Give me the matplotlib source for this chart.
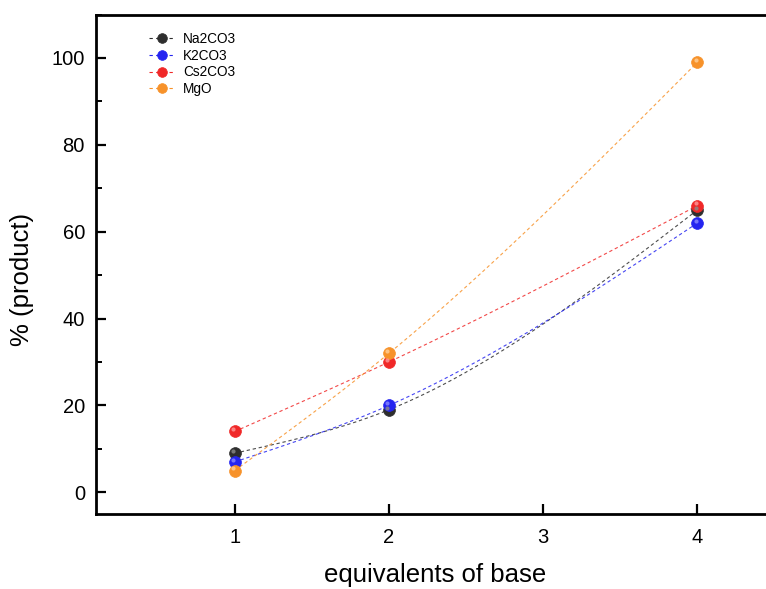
import numpy as np
import matplotlib
matplotlib.use("Agg")
import matplotlib.pyplot as plt
from matplotlib.ticker import MultipleLocator
from matplotlib.lines import Line2D

plt.rcParams['font.family'] = ['Liberation Sans', 'DejaVu Sans']

equivalents = [1, 2, 4]
series_names = ["Na2CO3", "K2CO3", "Cs2CO3", "MgO"]
na2co3 = [9, 19, 65]
k2co3 = [7, 20, 62]
cs2co3 = [14, 30, 66]
mgo = [5, 32, 99]
colors = ["#2e2e2e", "#2424f0", "#f02828", "#f7922a"]
highlights = ["#8a8a8a", "#8a8aff", "#ff9a9a", "#ffd09a"]


def natural_spline(x, y, n=200):
    x = np.asarray(x, float)
    y = np.asarray(y, float)
    k = len(x)
    h = np.diff(x)
    A = np.zeros((k, k))
    r = np.zeros(k)
    A[0, 0] = 1
    A[-1, -1] = 1
    for i in range(1, k - 1):
        A[i, i - 1] = h[i - 1]
        A[i, i] = 2 * (h[i - 1] + h[i])
        A[i, i + 1] = h[i]
        r[i] = 6 * ((y[i + 1] - y[i]) / h[i] - (y[i] - y[i - 1]) / h[i - 1])
    M = np.linalg.solve(A, r)
    xs = np.linspace(x[0], x[-1], n)
    ys = np.empty_like(xs)
    for j, xv in enumerate(xs):
        i = min(np.searchsorted(x, xv, side='right') - 1, k - 2)
        t1 = x[i + 1] - xv
        t0 = xv - x[i]
        hi = h[i]
        ys[j] = (M[i] * t1 ** 3 / (6 * hi) + M[i + 1] * t0 ** 3 / (6 * hi)
                 + (y[i] / hi - M[i] * hi / 6) * t1
                 + (y[i + 1] / hi - M[i + 1] * hi / 6) * t0)
    return xs, ys


fig = plt.figure(figsize=(7.66, 5.89), dpi=100)
ax = fig.add_axes([96 / 766, 1 - 514 / 589, (774.5 - 96) / 766, (514 - 14.5) / 589])

all_series = [na2co3, k2co3, cs2co3, mgo]
handles = []
for name, vals, c, hl in zip(series_names, all_series, colors, highlights):
    xs, ys = natural_spline(equivalents, vals)
    ax.plot(xs, ys, linestyle=(0, (3, 2.5)), color=c, lw=0.8, alpha=0.85, zorder=2)
    ax.plot(equivalents, vals, 'o', color=c, ms=8.5, mec=c, mew=0.5, zorder=3)
    ax.plot(np.array(equivalents) - 0.01, np.array(vals) + 0.5, 'o', color=hl,
            ms=3, mew=0, alpha=0.8, zorder=4)
    handles.append(Line2D([0], [0], color=c, lw=0.8, linestyle=(0, (3, 3)),
                          marker='o', ms=7, mec=c, mew=0.5))

ax.set_xlim(0.1, 4.5)
ax.set_ylim(-5, 110)
ax.set_xticks([1, 2, 3, 4])
ax.yaxis.set_major_locator(MultipleLocator(20))
ax.yaxis.set_minor_locator(MultipleLocator(10))
ax.set_yticks(np.arange(0, 101, 20))
ax.tick_params(axis='both', which='major', direction='in', length=7, width=1.6,
               labelsize=14.5)
ax.tick_params(axis='y', which='major', pad=8)
ax.tick_params(axis='x', which='major', pad=10)
ax.tick_params(axis='y', which='minor', direction='in', length=4, width=1.4)
ax.tick_params(axis='x', which='minor', bottom=False)
for s in ax.spines.values():
    s.set_linewidth(2.0)

ax.set_xlabel("equivalents of base", fontsize=18.5)
ax.set_ylabel("% (product)", fontsize=18.5)
ax.xaxis.set_label_coords(0.5, -0.098)
ax.yaxis.set_label_coords(-0.092, 0.47)

leg = ax.legend(handles, series_names, loc='upper left', bbox_to_anchor=(0.07, 0.976),
                frameon=False, fontsize=9.8, handlelength=1.9, labelspacing=0.2,
                handletextpad=0.6, borderaxespad=0)

fig.savefig("out.png", dpi=100)
